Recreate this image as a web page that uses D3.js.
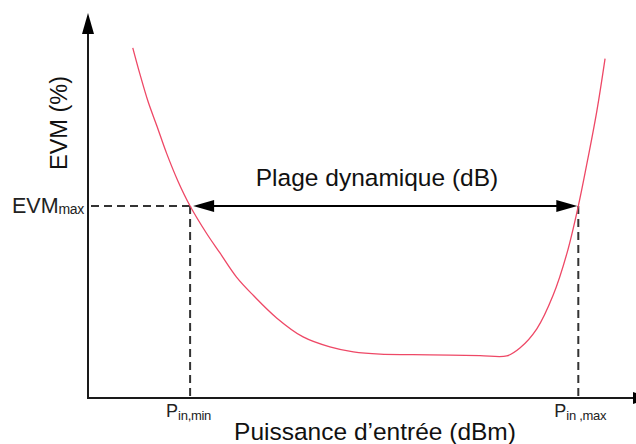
<!DOCTYPE html>
<html>
<head>
<meta charset="utf-8">
<script src="https://cdn.jsdelivr.net/npm/d3@7"></script>
<style>
  html, body { margin: 0; padding: 0; background: #fff; }
  svg { display: block; font-family: "Liberation Sans", Arial, sans-serif; }
</style>
</head>
<body>
<svg id="chart" width="636" height="444"></svg>
<script>
// EVM versus input power (arbitrary units on both axes)
const inputPower = [8.2, 9.5, 11.0, 12.6, 14.4, 16.5, 18.7, 21.7, 24.2, 27.2, 30.3, 34.6, 39.4, 44.3, 48.6, 53.5, 59.5, 66.3, 71.8, 76.7, 79.1, 82.2, 85.2, 87.7, 89.8, 91.3, 93.2, 94.7];
const evmValues  = [91.2, 84.4, 77.2, 70.9, 63.7, 56.4, 50.0, 42.9, 37.7, 31.5, 26.7, 20.8, 15.9, 13.3, 12.0, 11.4, 11.3, 11.15, 11.05, 10.95, 13.0, 18.0, 26.8, 37.6, 50.0, 60.5, 74.8, 88.4];

// Threshold and range limits
const evmMax = 50.0;
const pinMin = 18.7;
const pinMax = 89.8;

const axisTitles = ["Puissance d\u2019entr\u00e9e (dBm)", "EVM (%)"];
const rangeLabel = "Plage dynamique (dB)";

const svg = d3.select("#chart");

const x = d3.scaleLinear().domain([0, 100]).range([88, 634]);
const y = d3.scaleLinear().domain([0, 100]).range([398, 14]);

const axisColor = "#1a1a1a";
const dashColor = "#333";

// Axis lines
svg.append("line")
  .attr("x1", x(0) - 1).attr("x2", x(100))
  .attr("y1", y(0)).attr("y2", y(0))
  .attr("stroke", axisColor).attr("stroke-width", 2);
svg.append("line")
  .attr("x1", x(0)).attr("x2", x(0))
  .attr("y1", y(0) + 1).attr("y2", y(95))
  .attr("stroke", axisColor).attr("stroke-width", 2);

// Axis arrowheads
svg.append("path")
  .attr("d", `M${x(0)},${y(100) - 1} L${x(0) - 6},${y(100) + 20} L${x(0) + 6},${y(100) + 20} Z`)
  .attr("fill", "#000");
svg.append("path")
  .attr("d", `M${x(100) - 1},${y(0) - 6} L${x(100) + 19},${y(0)} L${x(100) - 1},${y(0) + 6} Z`)
  .attr("fill", "#000");

// Dashed reference lines
const dash = "8,5";
svg.append("line")
  .attr("x1", x(0) + 3).attr("x2", x(pinMin))
  .attr("y1", y(evmMax)).attr("y2", y(evmMax))
  .attr("stroke", dashColor).attr("stroke-width", 2).attr("stroke-dasharray", dash);
[pinMin, pinMax].forEach(p => {
  svg.append("line")
    .attr("x1", x(p)).attr("x2", x(p))
    .attr("y1", y(evmMax)).attr("y2", y(0))
    .attr("stroke", dashColor).attr("stroke-width", 2).attr("stroke-dasharray", dash);
});

// Dynamic range double arrow
const ay = y(evmMax);
const xa = x(pinMin) + 3, xb = x(pinMax) - 1;
svg.append("line")
  .attr("x1", xa + 10).attr("x2", xb - 10)
  .attr("y1", ay).attr("y2", ay)
  .attr("stroke", "#000").attr("stroke-width", 2);
svg.append("path")
  .attr("d", `M${xa},${ay} L${xa + 21},${ay - 6} L${xa + 21},${ay + 6} Z`)
  .attr("fill", "#000");
svg.append("path")
  .attr("d", `M${xb},${ay} L${xb - 21},${ay - 6} L${xb - 21},${ay + 6} Z`)
  .attr("fill", "#000");

// EVM curve
const line = d3.line()
  .x((d, i) => x(inputPower[i]))
  .y(d => y(d))
  .curve(d3.curveCatmullRom.alpha(0.5));
svg.append("path")
  .datum(evmValues)
  .attr("d", line)
  .attr("fill", "none")
  .attr("stroke", "#ee4866")
  .attr("stroke-width", 1.3);

// Texts
svg.append("text")
  .attr("x", 377).attr("y", 186)
  .attr("text-anchor", "middle")
  .attr("font-size", 24.5)
  .attr("fill", "#111")
  .text(rangeLabel);

svg.append("text")
  .attr("x", 375).attr("y", 440)
  .attr("text-anchor", "middle")
  .attr("font-size", 24.5)
  .attr("fill", "#111")
  .text(axisTitles[0]);

svg.append("text")
  .attr("transform", "translate(67,123) rotate(-90)")
  .attr("text-anchor", "middle")
  .attr("font-size", 23.5)
  .attr("fill", "#111")
  .text(axisTitles[1]);

// EVM_max label
const evmLab = svg.append("text")
  .attr("x", 12).attr("y", y(evmMax) + 7)
  .attr("font-size", 21.5)
  .attr("fill", "#222");
evmLab.append("tspan").text("EVM");
evmLab.append("tspan").attr("font-size", 14).attr("dy", 1).attr("letter-spacing", -0.4).text("max");

// P_in,min / P_in,max labels
[[pinMin, "in,min"], [pinMax, "in ,max"]].forEach(([p, sub]) => {
  const t = svg.append("text")
    .attr("x", x(p) - 24).attr("y", y(0) + 19)
    .attr("font-size", 18)
    .attr("fill", "#222");
  t.append("tspan").text("P");
  t.append("tspan").attr("font-size", 13).attr("dy", 3).attr("letter-spacing", -0.3).text(sub);
});
</script>
</body>
</html>
